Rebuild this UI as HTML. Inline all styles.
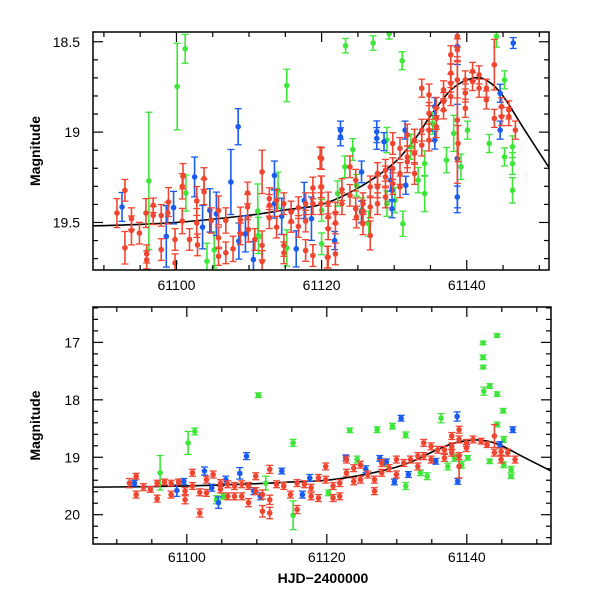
<!DOCTYPE html>
<html><head><meta charset="utf-8"><style>
body{margin:0;background:#fff;}
svg{display:block;font-family:"Liberation Sans",sans-serif;}
</style></head><body>
<svg id="chart" width="600" height="600" viewBox="0 0 600 600">
<defs>
<clipPath id="clipTop"><rect x="93" y="32" width="456" height="238"/></clipPath>
<clipPath id="clipBot"><rect x="93" y="307" width="458" height="237"/></clipPath>
</defs>
</svg>
<script>
// model curve [HJD-2400000, mag]
const curveT=[61086.5,61092,61100,61110,61115,61120,61125,61130,61133,61135,61138,61141,61143,61145,61148,61152.2];
const curveM=[19.52,19.515,19.50,19.46,19.43,19.40,19.31,19.17,19.03,18.91,18.76,18.70,18.72,18.80,18.99,19.25];
// top panel data [t, mag, err]
const topRed=[[61091.8,19.448,.08],[61092.9,19.322,.06],[61092.9,19.64,.09],[61093.8,19.479,.06],[61093.8,19.544,.08],[61094.9,19.559,.06],[61095.8,19.448,.08],[61095.9,19.674,.05],[61095.9,19.707,.05],[61096.8,19.405,.04],[61096.8,19.461,.05],[61097.9,19.461,.06],[61097.9,19.65,.06],[61098.8,19.448,.06],[61098.9,19.387,.08],[61099.8,19.594,.06],[61099.8,19.724,.05],[61100.8,19.30,.07],[61100.9,19.244,.07],[61100.8,19.492,.07],[61101.8,19.594,.06],[61102.8,19.381,.08],[61102.8,19.503,.08],[61102.9,19.624,.06],[61103.8,19.257,.06],[61103.8,19.331,.07],[61104.8,19.489,.07],[61105.8,19.433,.08],[61105.8,19.585,.06],[61105.8,19.687,.05],[61106.8,19.489,.07],[61106.8,19.668,.06],[61107.8,19.646,.07],[61108.8,19.485,.07],[61108.8,19.563,.06],[61109.8,19.337,.06],[61109.8,19.414,.07],[61109.9,19.539,.07],[61110.8,19.594,.06],[61111.8,19.22,.12],[61111.8,19.627,.08],[61111.8,19.716,.06],[61112.8,19.368,.06],[61112.8,19.405,.06],[61112.8,19.474,.06],[61113.8,19.377,.06],[61113.8,19.526,.06],[61114.8,19.396,.06],[61114.8,19.627,.06],[61114.8,19.668,.06],[61115.8,19.442,.06],[61115.8,19.494,.06],[61116.8,19.418,.06],[61116.8,19.522,.06],[61117.8,19.396,.06],[61117.8,19.492,.06],[61117.8,19.655,.06],[61118.8,19.309,.06],[61118.8,19.396,.06],[61118.8,19.683,.06],[61119.8,19.142,.06],[61119.9,19.303,.06],[61119.9,19.396,.06],[61120.9,19.392,.06],[61120.9,19.47,.06],[61120.9,19.535,.06],[61120.9,19.692,.06],
[61120.0,19.146,.06],[61120.0,19.303,.06],[61120.8,19.692,.06],[61121.9,19.448,.06],[61121.9,19.503,.06],[61121.9,19.674,.06],[61122.8,19.318,.06],[61122.8,19.396,.06],[61123.9,19.192,.06],[61123.9,19.35,.06],[61124.7,19.266,.06],[61124.7,19.424,.06],[61124.8,19.47,.06],[61125.7,19.396,.06],[61125.7,19.437,.06],[61125.7,19.507,.06],[61126.7,19.303,.06],[61126.7,19.414,.06],[61126.7,19.572,.08],[61127.7,19.229,.06],[61127.7,19.303,.06],[61127.7,19.396,.06],[61128.8,19.211,.06],[61128.8,19.248,.06],[61128.8,19.359,.06],[61129.8,19.063,.06],[61129.8,19.202,.06],[61129.8,19.285,.06],[61130.8,19.09,.06],[61130.8,19.229,.06],[61130.8,19.303,.06],[61131.8,19.016,.06],[61131.8,19.137,.06],[61131.8,19.164,.06],[61132.8,19.044,.06],[61132.8,19.118,.06],[61132.8,19.229,.06],[61133.8,18.757,.05],[61133.8,18.989,.06],[61133.8,19.072,.06],[61134.8,18.794,.06],[61134.8,18.896,.06],[61134.8,18.989,.06],[61134.8,19.044,.06],[61135.8,18.868,.06],[61135.8,18.924,.06],[61135.8,18.97,.06],[61136.8,18.766,.05],[61136.8,18.831,.05],[61136.8,18.877,.05],[61137.8,18.572,.05],[61137.8,18.674,.05],[61137.8,18.729,.05],[61137.8,18.803,.05],[61138.7,18.47,.06],[61138.7,18.544,.06],[61138.7,18.711,.1],[61138.7,18.933,.35],[61138.8,19.063,.1],[61139.8,18.711,.05],[61139.8,18.783,.05],[61139.8,18.868,.05],[61140.8,18.664,.05],[61140.8,18.72,.05],[61141.7,18.683,.05],[61141.7,18.757,.05],[61142.7,18.757,.05],[61142.7,18.822,.05],[61143.8,18.627,.14],[61143.8,18.924,.05],[61144.8,18.859,.05],[61144.8,18.914,.05],[61145.8,18.877,.05],[61145.8,18.914,.05],[61146.7,18.989,.05]];
const topBlue=[[61092.5,19.414,.08],[61098.6,19.577,.17],[61099.6,19.418,.09],[61102.5,19.248,.11],[61103.6,19.526,.12],[61104.6,19.433,.12],[61105.5,19.452,.12],[61107.5,19.276,.18],[61108.5,18.97,.1],[61108.6,19.603,.1],[61109.5,19.563,.1],[61110.6,19.705,.1],[61113.5,19.24,.08],[61113.5,19.396,.08],[61114.5,19.466,.1],[61116.5,19.646,.1],[61117.6,19.378,.1],[61118.6,19.479,.12],[61121.8,19.60,.05],[61122.6,18.989,.05],[61122.6,19.026,.05],[61125.5,19.22,.06],[61125.5,19.442,.06],[61127.6,18.998,.06],[61127.6,19.035,.06],[61128.6,19.053,.05],[61129.5,19.266,.06],[61129.7,19.322,.06],[61129.7,19.424,.05],[61131.5,18.989,.05],[61131.6,19.294,.05],[61135.6,19.044,.05],[61135.6,18.859,.05],[61138.7,18.526,.1],[61138.7,19.146,.3],[61138.7,19.359,.06],[61144.6,18.785,.05],[61144.6,18.989,.05],[61146.4,18.507,.03]];
const topGreen=[[61096.2,19.27,.38],[61100.1,18.748,.24],[61101.2,18.539,.08],[61101.3,19.337,.1],[61104.2,19.715,.1],[61105.2,19.652,.1],[61111.2,19.437,.15],[61111.3,19.572,.1],[61114.0,19.322,.1],[61115.2,18.742,.09],[61115.2,19.641,.1],[61120.0,19.433,.06],[61120.0,19.618,.06],[61123.3,18.522,.04],[61127.1,18.507,.04],[61129.3,18.455,.03],[61131.1,18.605,.05],[61122.2,19.34,.07],[61123.2,19.192,.06],[61124.3,19.096,.06],[61124.8,19.294,.06],[61125.5,19.433,.07],[61126.5,19.507,.07],[61129.0,19.044,.07],[61129.0,19.396,.07],[61130.1,19.377,.07],[61131.2,19.507,.07],[61132.3,19.081,.07],[61133.3,19.266,.07],[61134.2,19.34,.1],[61134.2,19.174,.07],[61135.3,18.952,.06],[61137.2,19.155,.07],[61138.2,19.007,.1],[61139.2,19.192,.07],[61140.1,18.989,.05],[61143.1,19.063,.05],[61144.1,18.47,.06],[61145.2,18.711,.05],[61145.2,19.137,.05],[61146.3,19.081,.06],[61146.3,19.174,.06],[61146.3,19.322,.07]];
// bottom panel data [t, mag, err]
const botRed=[[61091.81,19.45,.08],[61092.76,19.33,.05],[61092.76,19.65,.06],[61093.81,19.52,.06],[61094.81,19.56,.05],[61095.76,19.45,.05],[61095.76,19.72,.06],[61096.81,19.43,.05],[61097.76,19.45,.05],[61097.76,19.65,.06],[61098.81,19.43,.05],[61099.76,19.59,.06],[61099.76,19.74,.07],[61100.81,19.27,.06],[61100.81,19.50,.06],[61101.85,19.61,.06],[61101.85,19.97,.07],[61102.81,19.39,.06],[61102.81,19.62,.06],[61103.76,19.30,.06],[61104.81,19.45,.06],[61104.81,19.56,.06],[61105.85,19.47,.06],[61105.85,19.68,.06],[61106.81,19.50,.06],[61106.81,19.68,.06],[61107.85,19.47,.06],[61107.85,19.68,.06],[61108.81,19.50,.06],[61108.81,19.79,.07],[61109.85,19.33,.06],[61109.85,19.59,.06],[61110.81,19.65,.08],[61110.81,19.94,.1],[61111.85,19.21,.07],[61111.85,19.74,.08],[61111.85,19.97,.1],[61112.81,19.47,.06],[61113.85,19.50,.06],[61114.81,19.65,.06],[61115.76,19.45,.06],[61115.76,19.91,.07],[61116.81,19.47,.06],[61117.76,19.53,.06],[61117.76,19.68,.06],[61118.81,19.36,.06],[61118.81,19.71,.06],[61119.85,19.16,.06],[61119.85,19.39,.06],[61120.9,19.50,.06],[61120.9,19.71,.06],[61121.85,19.45,.06],[61121.85,19.68,.06],[61122.81,19.04,.06],[61122.81,19.27,.06],[61123.85,19.19,.06],[61123.85,19.42,.06],[61124.81,19.13,.06],[61124.81,19.39,.06],[61125.85,19.30,.06],[61126.81,19.39,.06],[61126.81,19.59,.06],[61127.85,19.10,.06],[61127.85,19.27,.06],[61128.9,19.19,.06],[61129.95,19.04,.06],[61129.95,19.30,.06],[61131.0,19.10,.06],[61131.95,19.04,.06],[61133.0,18.98,.06],[61133.0,19.16,.06],[61133.85,18.75,.06],[61133.85,18.98,.06],[61134.9,18.81,.06],[61134.9,19.04,.06],[61135.85,18.87,.06],[61136.81,18.87,.06],[61136.81,19.01,.06],[61137.85,18.63,.06],[61137.85,18.81,.06],[61137.85,18.92,.06],[61138.9,18.52,.06],[61138.9,18.69,.06],[61138.9,18.98,.06],[61138.9,19.16,.2],[61139.95,18.75,.06],[61139.95,18.84,.06],[61140.9,18.69,.06],[61142.04,18.72,.05],[61142.9,18.78,.05],[61143.95,18.63,.2],[61143.95,18.92,.06],[61144.9,18.90,.06],[61144.9,19.04,.06],[61145.85,18.92,.06],[61146.9,19.04,.06]];
const botBlue=[[61092.52,19.45,.05],[61098.57,19.58,.1],[61099.57,19.42,.05],[61102.52,19.24,.07],[61103.57,19.53,.06],[61104.52,19.79,.1],[61105.57,19.39,.06],[61107.57,19.28,.1],[61108.52,18.98,.06],[61109.57,19.59,.06],[61110.52,19.68,.06],[61113.57,19.24,.05],[61116.52,19.65,.06],[61117.57,19.36,.06],[61122.71,19.01,.05],[61125.57,19.21,.06],[61127.57,19.02,.05],[61128.52,19.08,.05],[61129.66,19.43,.05],[61130.62,18.32,.05],[61131.66,19.30,.05],[61135.57,19.07,.05],[61138.62,18.29,.08],[61138.71,19.42,.05],[61144.71,18.78,.05],[61146.57,18.52,.05]];
const botGreen=[[61096.19,19.27,.3],[61100.19,18.75,.2],[61101.14,18.55,.06],[61104.23,19.74,.07],[61105.19,19.68,.05],[61110.23,17.92,.04],[61111.28,19.45,.12],[61115.19,18.75,.06],[61115.19,20.01,.25],[61120.23,19.62,.05],[61123.28,18.53,.04],[61124.33,19.04,.06],[61127.19,18.52,.05],[61128.23,19.10,.06],[61129.38,18.46,.05],[61131.28,18.61,.05],[61131.28,19.50,.06],[61133.38,19.27,.05],[61134.33,19.33,.06],[61136.33,18.32,.08],[61137.28,19.16,.06],[61138.23,19.01,.06],[61139.28,19.13,.06],[61140.14,19.01,.04],[61142.33,17.01,.03],[61142.33,17.26,.04],[61142.33,17.43,.03],[61142.43,17.85,.07],[61143.28,17.76,.04],[61143.28,19.07,.04],[61144.33,16.88,.03],[61144.33,17.90,.04],[61144.33,18.43,.04],[61145.19,18.19,.04],[61145.28,18.69,.05],[61145.28,19.13,.05],[61146.33,19.21,.05],[61146.33,19.33,.04]];
const topYTicks=[18.5,19,19.5];
const topYLabels=["18.5","19","19.5"];
const botYTicks=[17,18,19,20];
const botYLabels=["17","18","19","20"];
const xTicks=[61100,61120,61140];
const xLabels=["61100","61120","61140"];

const NS="http://www.w3.org/2000/svg";
const svg=document.getElementById('chart');
function mk(tag,attrs,parent){const e=document.createElementNS(NS,tag);for(const k in attrs)e.setAttribute(k,attrs[k]);(parent||svg).appendChild(e);return e;}

const panels=[
 {name:'top',x0:93,x1:549,y0:32,y1:270,t0:61088.5,t1:61151.33,m0:18.446,m1:19.763,clip:'clipTop',
  data:[['green','#3ee63a',topGreen],['blue','#1a5cf0',topBlue],['red','#f04530',topRed]],
  yMinor:0.1,yMajor:0.5,yt:topYTicks,yl:topYLabels,ylx:80,xlY:290},
 {name:'bottom',x0:93,x1:551,y0:307,y1:544,t0:61086.6,t1:61152.03,m0:16.384,m1:20.51,clip:'clipBot',
  data:[['green','#3ee63a',botGreen],['blue','#1a5cf0',botBlue],['red','#f04530',botRed]],
  yMinor:0.2,yMajor:1,yt:botYTicks,yl:botYLabels,ylx:80,xlY:562}
];

panels.forEach(p=>{
  const X=t=>p.x0+(t-p.t0)/(p.t1-p.t0)*(p.x1-p.x0);
  const Y=m=>p.y0+(m-p.m0)/(p.m1-p.m0)*(p.y1-p.y0);
  const g=mk('g',{});
  
  
  const dg=mk('g',{'clip-path':'url(#'+p.clip+')'},g);
  
  
  // curve via Catmull-Rom
  const pts=curveT.map((t,i)=>[X(t),Y(curveM[i])]);
  let d='M'+pts[0][0]+','+pts[0][1];
  for(let i=0;i<pts.length-1;i++){
    const p0=pts[Math.max(0,i-1)],p1=pts[i],p2=pts[i+1],p3=pts[Math.min(pts.length-1,i+2)];
    d+=' C'+(p1[0]+(p2[0]-p0[0])/6)+','+(p1[1]+(p2[1]-p0[1])/6)+' '+(p2[0]-(p3[0]-p1[0])/6)+','+(p2[1]-(p3[1]-p1[1])/6)+' '+p2[0]+','+p2[1];
  }
  const c=mk('path',{d:d,fill:'none',stroke:'#000','stroke-width':1.6},dg);
  
  
  p.data.forEach(([nm,col,arr])=>{
    const sg=mk('g',{stroke:col,fill:col},dg);
    
    
    arr.forEach(([t,m,e])=>{
      const x=X(t),y=Y(m),ya=Y(m-e),yb=Y(m+e);
      const pg=mk('g',{},sg);
      
      
      mk('line',{x1:x,x2:x,y1:ya,y2:yb,'stroke-width':1.6},pg);
      mk('line',{x1:x-3.5,x2:x+3.5,y1:ya,y2:ya,'stroke-width':1.3},pg);
      mk('line',{x1:x-3.5,x2:x+3.5,y1:yb,y2:yb,'stroke-width':1.3},pg);
      mk('circle',{cx:x,cy:y,r:2.8,stroke:'none'},pg);
    });
  });
  // frame
  const fr=mk('rect',{x:p.x0,y:p.y0,width:p.x1-p.x0,height:p.y1-p.y0,fill:'none',stroke:'#000','stroke-width':1.5},g);
  
  
  // x ticks
  const tg=mk('g',{stroke:'#000','stroke-width':1.2},g);
  
  
  for(let t=61090;t<=61150;t+=5){
    const x=X(t);if(x<p.x0||x>p.x1)continue;
    const L=(t%20===0)?10:5;
    mk('line',{x1:x,x2:x,y1:p.y1,y2:p.y1-L},tg);
    mk('line',{x1:x,x2:x,y1:p.y0,y2:p.y0+L},tg);
  }
  const n=Math.round((p.m1-p.m0)/p.yMinor)+2;
  const start=Math.ceil(p.m0/p.yMinor)*p.yMinor;
  for(let i=0;i<n;i++){
    const m=start+i*p.yMinor;if(m>p.m1)break;
    const y=Y(m);
    const maj=Math.abs(m/p.yMajor-Math.round(m/p.yMajor))<1e-6;
    const L=maj?10:5;
    mk('line',{x1:p.x0,x2:p.x0+L,y1:y,y2:y},tg);
    mk('line',{x1:p.x1,x2:p.x1-L,y1:y,y2:y},tg);
  }
  p.yt.forEach((m,i)=>{
    const tx=mk('text',{x:p.ylx,y:Y(m)+5,'text-anchor':'end','font-size':14,fill:'#000'},g);
    tx.textContent=p.yl[i];
    
    
  });
  xTicks.forEach((t,i)=>{
    const tx=mk('text',{x:X(t),y:p.xlY,'text-anchor':'middle','font-size':14,fill:'#000'},g);
    tx.textContent=xLabels[i];
    
    
  });
  const yt=mk('text',{x:0,y:0,'text-anchor':'middle','font-size':14,'font-weight':'bold',fill:'#000',transform:'translate(40,'+((p.y0+p.y1)/2)+') rotate(-90)'},g);
  yt.textContent='Magnitude';
  
  
});
const xt=mk('text',{x:323,y:583,'text-anchor':'middle','font-size':14,'font-weight':'bold',fill:'#000'});
xt.textContent='HJD\u22122400000';


</script>
</body></html>
